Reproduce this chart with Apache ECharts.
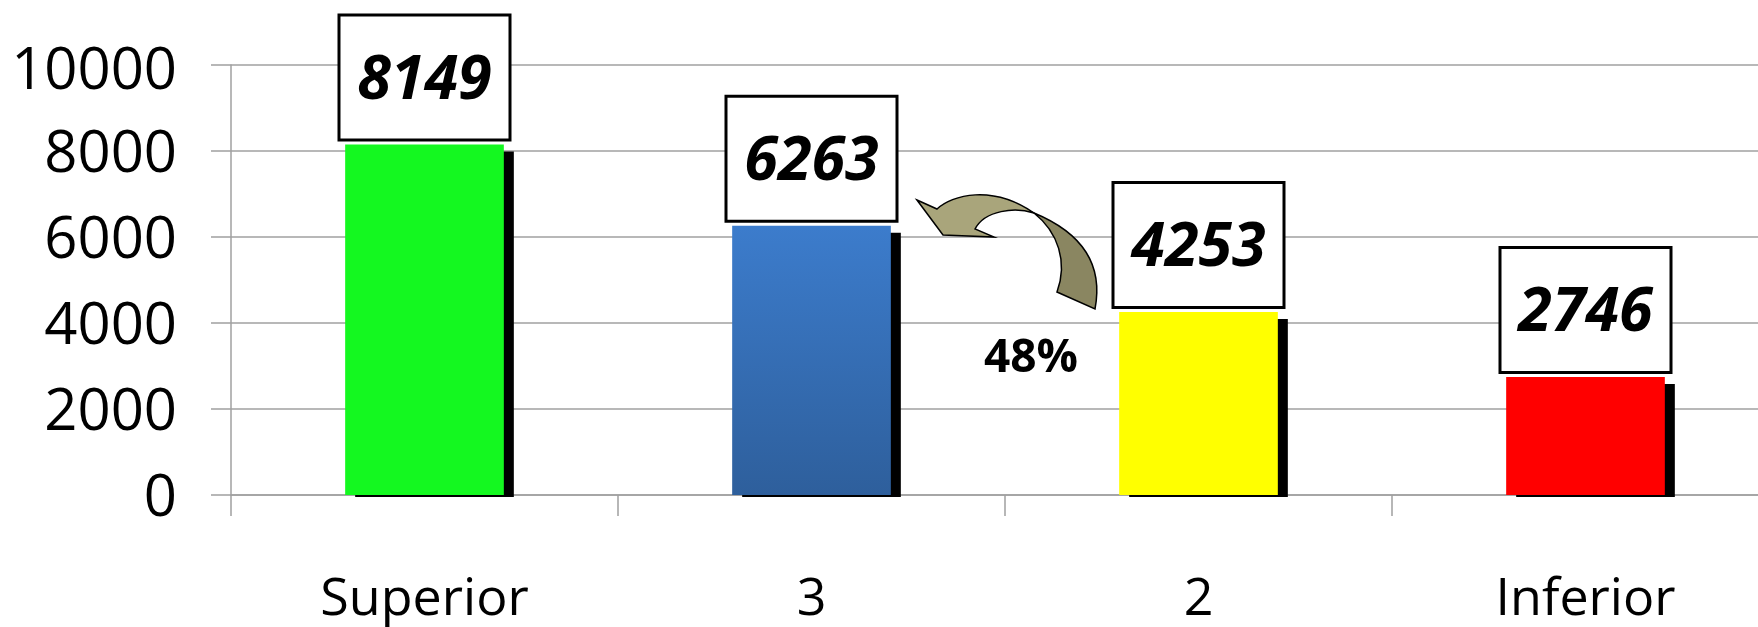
<!DOCTYPE html>
<html>
<head>
<meta charset="utf-8">
<script src="https://cdn.jsdelivr.net/npm/echarts@6/dist/echarts.min.js"></script>
<style>
  html, body { margin: 0; padding: 0; background: #fff; overflow: hidden; width: 1758px; height: 627px; }
  #chart { width: 1800px; height: 627px; }
</style>
</head>
<body>
<div id="chart"></div>
<script>
// ---- data ----
const categories = ['Superior', '3', '2', 'Inferior'];
const values = [8149, 6263, 4253, 2746];
const yMin = 0;
const yMax = 10000;
const yInterval = 2000;
const annotationText = '48%';

// ---- styles ----
const barColors = [
  '#14f820',
  { type: 'linear', x: 0, y: 0, x2: 0, y2: 1,
    colorStops: [{ offset: 0, color: '#3c7ccc' }, { offset: 1, color: '#2e5f9c' }] },
  '#ffff00',
  '#ff0000'
];
const FONT = '"Open Sans", "Liberation Sans", sans-serif';
const GRID_COLOR = '#a0a0a0';

const chart = echarts.init(document.getElementById('chart'), null, { renderer: 'canvas' });

const BAR_RATIO = 0.41;

const option = {
  backgroundColor: '#ffffff',
  animation: false,
  grid: { left: 231, right: 21, top: 65, bottom: 132, containLabel: false },
  xAxis: {
    type: 'category',
    data: categories,
    boundaryGap: true,
    axisLine: { show: true, lineStyle: { color: GRID_COLOR, width: 1.5 } },
    axisTick: { show: true, length: 21, alignWithLabel: false, lineStyle: { color: GRID_COLOR, width: 1.5 } },
    axisLabel: { margin: 79, fontSize: 52, color: '#000', fontFamily: FONT }
  },
  yAxis: {
    type: 'value',
    min: yMin, max: yMax, interval: yInterval,
    axisLine: { show: true, lineStyle: { color: GRID_COLOR, width: 1.5 } },
    axisTick: { show: true, length: 20, lineStyle: { color: GRID_COLOR, width: 1.5 } },
    splitLine: { show: true, lineStyle: { color: GRID_COLOR, width: 1.5 } },
    axisLabel: {
      margin: 54, fontSize: 58, color: '#000', fontFamily: FONT,
      formatter: function (v) { return v === yMax ? '{t|' + v + '}' : '{n|' + v + '}'; },
      rich: {
        t: { fontSize: 58, fontFamily: FONT, color: '#000', padding: [14, 0, 0, 0] },
        n: { fontSize: 58, fontFamily: FONT, color: '#000', padding: [8, 0, 0, 0] }
      }
    }
  },
  series: [
    {
      type: 'custom',
      name: 'shadow',
      z: 1,
      silent: true,
      data: values.map((v, i) => [i, v]),
      encode: { x: 0, y: 1 },
      renderItem: function (params, api) {
        const top = api.coord([api.value(0), api.value(1)]);
        const base = api.coord([api.value(0), 0]);
        const bw = api.size([1, 0])[0] * BAR_RATIO;
        return {
          type: 'rect',
          shape: { x: top[0] - bw / 2 + 10, y: top[1] + 7, width: bw, height: base[1] - top[1] - 5 },
          style: { fill: '#000' }
        };
      }
    },
    {
      type: 'bar',
      name: 'value',
      z: 2,
      barWidth: (BAR_RATIO * 100) + '%',
      data: values.map((v, i) => ({ value: v, itemStyle: { color: barColors[i] } })),
      label: {
        show: true,
        position: 'top',
        distance: 6,
        formatter: '{c}',
        fontFamily: FONT,
        fontSize: 61,
        fontWeight: 'bold',
        fontStyle: 'italic',
        color: '#000',
        backgroundColor: '#fff',
        borderColor: '#000',
        borderWidth: 3,
        width: 168,
        height: 114,
        lineHeight: 114,
        padding: [8, 0, 0, 0],
        align: 'center'
      }
    },
    {
      type: 'custom',
      name: 'arrow',
      z: 10,
      silent: true,
      data: [[0, 0]],
      encode: { x: 0, y: 1 },
      renderItem: function () {
        return {
          type: 'group',
          children: [
            {
              type: 'path',
              shape: {
                pathData: 'M917,200 L937,209 C952,195 992,184 1034,213 C1015,207 985,210 975,229 L994,237 L943,235 Z'
              },
              style: { fill: '#a9a57b', stroke: '#000', lineWidth: 1.5 }
            },
            {
              type: 'path',
              shape: {
                pathData: 'M1034,213 C1080,232 1104,262 1095,309 L1057,292 C1068,262 1058,232 1034,213 Z'
              },
              style: { fill: '#8a8661', stroke: '#000', lineWidth: 1.5 }
            }
          ]
        };
      }
    }
  ],
  graphic: [
    {
      type: 'text',
      z: 10,
      x: 1031, y: 359,
      style: {
        text: annotationText,
        fill: '#000',
        font: 'bold 46px ' + FONT,
        textAlign: 'center',
        textVerticalAlign: 'middle'
      }
    }
  ]
};

chart.setOption(option);
</script>
</body>
</html>
